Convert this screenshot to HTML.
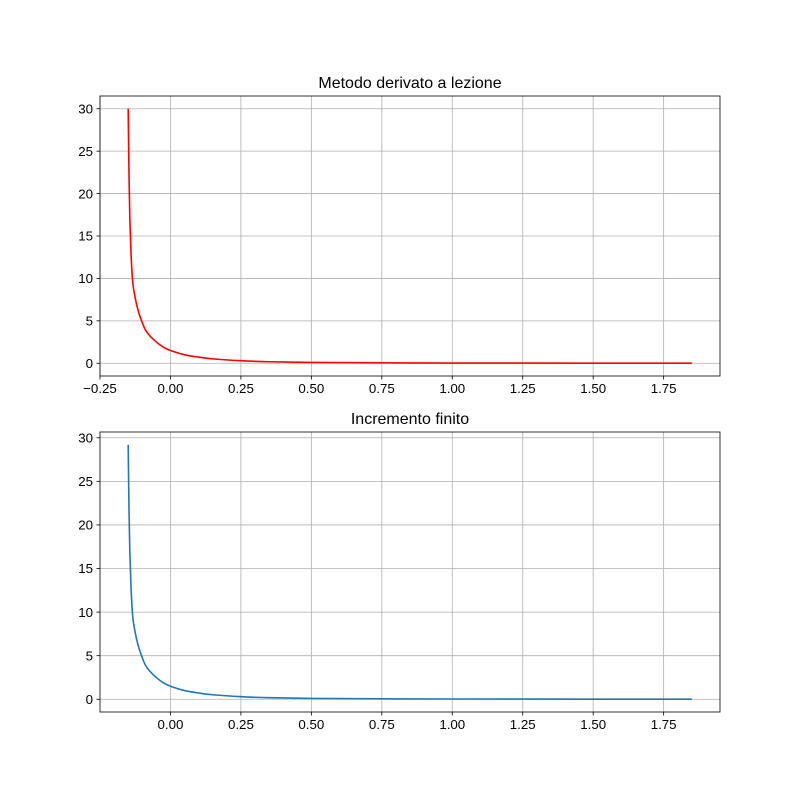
<!DOCTYPE html>
<html><head><meta charset="utf-8"><style>
body{margin:0;background:#fff}
svg text{font-family:"Liberation Sans","DejaVu Sans",sans-serif;fill:#000}
</style></head><body>
<svg id="fig" width="800" height="800"></svg>
<script>
const xs1=[-0.15,-0.147,-0.144,-0.14,-0.135,-0.13,-0.12,-0.11,-0.1,-0.09,-0.075,-0.05,-0.025,0,0.05,0.1,0.15,0.25,0.35,0.5,0.75,1.0,1.5,1.85];
const ys1=[30,22,17,13,10,8.6,6.9,5.7,4.8,4.0,3.3,2.5,1.9,1.5,1.0,0.72,0.52,0.3,0.18,0.1,0.05,0.03,0.015,0.01];
const xs2=[-0.15,-0.147,-0.144,-0.14,-0.135,-0.13,-0.12,-0.11,-0.1,-0.09,-0.075,-0.05,-0.025,0,0.05,0.1,0.15,0.25,0.35,0.5,0.75,1.0,1.5,1.85];
const ys2=[29.2,21.6,16.8,12.9,9.9,8.55,6.87,5.68,4.78,3.99,3.29,2.49,1.89,1.5,1.0,0.72,0.52,0.3,0.18,0.1,0.05,0.03,0.015,0.01];
const xticks1=["-0.25","0.00","0.25","0.50","0.75","1.00","1.25","1.50","1.75"];
const xticks2=["0.00","0.25","0.50","0.75","1.00","1.25","1.50","1.75"];
const yticks=["0","5","10","15","20","25","30"];
const NS="http://www.w3.org/2000/svg";
const svg=document.getElementById('fig');
function mk(t,a,p){const e=document.createElementNS(NS,t);for(const k in a)e.setAttribute(k,a[k]);(p||svg).appendChild(e);return e;}
function panel(name,top,title,xs,ys,xt,color,ymin,ymax){
  const L=100,R=720,T=top,B=top+280;
  const g=mk('g',{});
  
  
  const xmin=-0.25,xmax=1.95;
  const sx=v=>L+(v-xmin)/(xmax-xmin)*(R-L);
  const sy=v=>B-(v-ymin)/(ymax-ymin)*(B-T);
  xt.forEach(s=>{const v=parseFloat(s),x=sx(v);
    const gl=mk('line',{x1:x,x2:x,y1:T,y2:B,stroke:'#b0b0b0','stroke-width':0.8},g);
    
    mk('line',{x1:x,x2:x,y1:B,y2:B+3.5,stroke:'#000','stroke-width':0.8},g);
    const t=mk('text',{x:x,y:B+17,'text-anchor':'middle','font-size':13.3},g);t.textContent=s.replace('-','−');
    });
  yticks.forEach(s=>{const v=parseFloat(s),y=sy(v);
    const gl=mk('line',{x1:L,x2:R,y1:y,y2:y,stroke:'#b0b0b0','stroke-width':0.8},g);
    
    mk('line',{x1:L-3.5,x2:L,y1:y,y2:y,stroke:'#000','stroke-width':0.8},g);
    const t=mk('text',{x:L-7,y:y+4.7,'text-anchor':'end','font-size':13.3},g);t.textContent=s;
    });
  const pts=xs.map((x,i)=>[sx(x),sy(ys[i])]);
  let d='M'+pts[0][0]+','+pts[0][1];
  for(let i=1;i<pts.length;i++){const p0=pts[Math.max(0,i-2)],p1=pts[i-1],p2=pts[i],p3=pts[Math.min(pts.length-1,i+1)];
    const c1x=p1[0]+(p2[0]-p0[0])/6,c1y=p1[1]+(p2[1]-p0[1])/6,c2x=p2[0]-(p3[0]-p1[0])/6,c2y=p2[1]-(p3[1]-p1[1])/6;
    d+=' C'+c1x+','+c1y+' '+c2x+','+c2y+' '+p2[0]+','+p2[1];}
  const pl=mk('path',{d:d,fill:'none',stroke:color,'stroke-width':1.6,'stroke-linejoin':'round'},g);
  
  const fr=mk('rect',{x:L,y:T,width:R-L,height:B-T,fill:'none',stroke:'#000','stroke-width':0.8},g);
  
  const tt=mk('text',{x:(L+R)/2,y:T-8,'text-anchor':'middle','font-size':16},g);tt.textContent=title;
  
}
panel('top-panel',96,'Metodo derivato a lezione',xs1,ys1,xticks1,'#ff0000',-1.5,31.5);
panel('bottom-panel',432,'Incremento finito',xs2,ys2,xticks2,'#1f77b4',-1.46,30.66);
</script>
</body></html>
